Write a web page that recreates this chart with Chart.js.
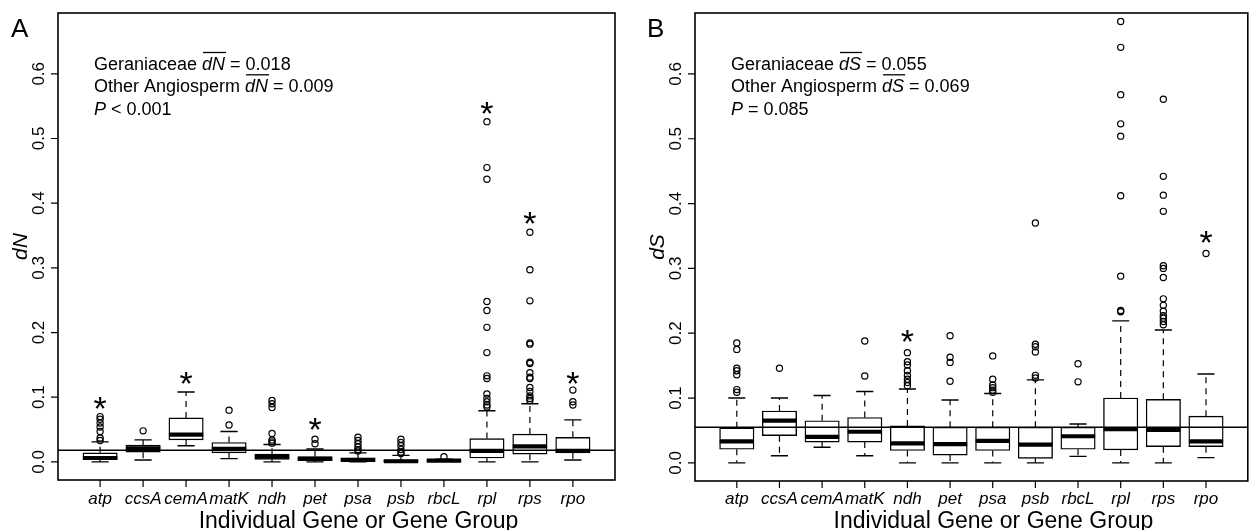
<!DOCTYPE html>
<html>
<head>
<meta charset="utf-8">
<script src="https://cdn.jsdelivr.net/npm/chart.js@4.4.1/dist/chart.umd.min.js"></script>
<style>
  html, body { margin: 0; padding: 0; background: #fff; }
  #wrap { position: relative; width: 1253px; height: 530px; overflow: hidden; }
  canvas { position: absolute; top: 0; }
  #cA { left: 0; }
  #cB { left: 626px; }
</style>
</head>
<body>
<div id="wrap">
  <canvas id="cA" width="626" height="530"></canvas>
  <canvas id="cB" width="627" height="530"></canvas>
</div>
<script>
// ---------------- DATA ----------------
const categories = ['atp', 'ccsA', 'cemA', 'matK', 'ndh', 'pet', 'psa', 'psb', 'rbcL', 'rpl', 'rps', 'rpo'];
const yTickValues = [0.0, 0.1, 0.2, 0.3, 0.4, 0.5, 0.6];
const yTickLabels = ['0.0', '0.1', '0.2', '0.3', '0.4', '0.5', '0.6'];
const xAxisTitle = 'Individual Gene or Gene Group';

// Panel A: dN
const dnLowerWhisker = [0.000, 0.003, 0.025, 0.005, 0.000, 0.000, 0.000, 0.000, 0.001, 0.000, 0.000, 0.003];
const dnQ1           = [0.004, 0.015, 0.034, 0.014, 0.004, 0.002, 0.001, 0.000, 0.001, 0.006, 0.012, 0.014];
const dnMedian       = [0.006, 0.021, 0.042, 0.020, 0.008, 0.005, 0.003, 0.001, 0.002, 0.017, 0.024, 0.017];
const dnQ3           = [0.014, 0.026, 0.068, 0.030, 0.012, 0.008, 0.006, 0.003, 0.003, 0.036, 0.043, 0.038];
const dnUpperWhisker = [0.031, 0.034, 0.108, 0.047, 0.027, 0.020, 0.014, 0.010, 0.004, 0.079, 0.090, 0.065];
const dnOutliers = [
  [0.070, 0.066, 0.060, 0.054, 0.047, 0.037, 0.033],
  [0.048],
  [],
  [0.080, 0.057],
  [0.095, 0.090, 0.084, 0.044, 0.034, 0.031, 0.029],
  [0.035, 0.028],
  [0.038, 0.033, 0.028, 0.023, 0.019, 0.017],
  [0.035, 0.030, 0.025, 0.019, 0.015, 0.013],
  [0.008],
  [0.526, 0.455, 0.437, 0.248, 0.234, 0.208, 0.169, 0.133, 0.129, 0.105, 0.098, 0.093, 0.088, 0.085],
  [0.355, 0.297, 0.249, 0.184, 0.182, 0.154, 0.152, 0.138, 0.131, 0.129, 0.115, 0.109, 0.102, 0.098, 0.095],
  [0.111, 0.093, 0.088]
];
const dnStars = [0.095, null, 0.134, null, null, 0.063, null, null, null, 0.552, 0.382, 0.134];
const dnMeanLine = 0.018;
const dnStatLines = [
  ['Geraniaceae ', 'dN', ' = 0.018'],
  ['Other Angiosperm ', 'dN', ' = 0.009'],
  ['P', ' < 0.001']
];

// Panel B: dS
const dsLowerWhisker = [0.000, 0.011, 0.024, 0.011, 0.000, 0.000, 0.000, 0.000, 0.010, 0.000, 0.000, 0.008];
const dsQ1           = [0.021, 0.042, 0.032, 0.032, 0.019, 0.012, 0.019, 0.007, 0.021, 0.020, 0.025, 0.025];
const dsMedian       = [0.033, 0.065, 0.040, 0.048, 0.030, 0.029, 0.034, 0.028, 0.041, 0.052, 0.051, 0.033];
const dsQ3           = [0.054, 0.080, 0.065, 0.070, 0.057, 0.055, 0.055, 0.055, 0.055, 0.100, 0.098, 0.072];
const dsUpperWhisker = [0.100, 0.100, 0.104, 0.110, 0.114, 0.097, 0.107, 0.128, 0.060, 0.219, 0.205, 0.137];
const dsOutliers = [
  [0.185, 0.175, 0.146, 0.142, 0.136, 0.113, 0.109],
  [0.146],
  [],
  [0.188, 0.134],
  [0.170, 0.156, 0.151, 0.142, 0.135, 0.129, 0.124, 0.119],
  [0.196, 0.163, 0.155, 0.126],
  [0.165, 0.129, 0.120, 0.116, 0.112, 0.109],
  [0.370, 0.183, 0.179, 0.171, 0.135, 0.131],
  [0.153, 0.125],
  [0.681, 0.641, 0.568, 0.523, 0.504, 0.412, 0.288, 0.235, 0.233],
  [0.561, 0.442, 0.413, 0.388, 0.304, 0.300, 0.286, 0.253, 0.243, 0.234, 0.227, 0.223, 0.218, 0.213],
  [0.323]
];
const dsStars = [null, null, null, null, 0.200, null, null, null, null, null, null, 0.353];
const dsMeanLine = 0.055;
const dsStatLines = [
  ['Geraniaceae ', 'dS', ' = 0.055'],
  ['Other Angiosperm ', 'dS', ' = 0.069'],
  ['P', ' = 0.085']
];

// ---------------- RENDERING ----------------
const FONT = '"Liberation Sans", Arial, Helvetica, sans-serif';

function makePanel(canvasId, cfg) {
  const boxData = categories.map((c, i) => ({ x: i + 1, y: [cfg.q1[i], cfg.q3[i]] }));
  const outData = [];
  cfg.outliers.forEach((arr, i) => arr.forEach(v => outData.push({ x: i + 1, y: v })));

  const boxPlugin = {
    id: 'boxplotExtras',
    afterDatasetsDraw(chart) {
      const ctx = chart.ctx;
      const xs = chart.scales.x, ys = chart.scales.y;
      const area = chart.chartArea;
      ctx.save();
      ctx.beginPath();
      ctx.rect(area.left, area.top, area.right - area.left, area.bottom - area.top);
      ctx.clip();
      ctx.strokeStyle = '#000';
      categories.forEach((c, i) => {
        const cx = xs.getPixelForValue(i + 1);
        const capHalf = xs.getPixelForValue(i + 1.2) - cx;
        const boxHalf = xs.getPixelForValue(i + 1.4) - cx;
        const yLo = ys.getPixelForValue(cfg.lo[i]);
        const yQ1 = ys.getPixelForValue(cfg.q1[i]);
        const yQ3 = ys.getPixelForValue(cfg.q3[i]);
        const yHi = ys.getPixelForValue(cfg.hi[i]);
        const yMed = ys.getPixelForValue(cfg.med[i]);
        // dashed whiskers
        ctx.lineWidth = 1.2;
        ctx.setLineDash([6, 5]);
        ctx.beginPath();
        ctx.moveTo(cx, yQ3); ctx.lineTo(cx, yHi);
        ctx.moveTo(cx, yQ1); ctx.lineTo(cx, yLo);
        ctx.stroke();
        // caps
        ctx.setLineDash([]);
        ctx.lineWidth = 1.4;
        ctx.beginPath();
        ctx.moveTo(cx - capHalf, yHi); ctx.lineTo(cx + capHalf, yHi);
        ctx.moveTo(cx - capHalf, yLo); ctx.lineTo(cx + capHalf, yLo);
        ctx.stroke();
        // median
        ctx.lineWidth = 4.2;
        ctx.beginPath();
        ctx.moveTo(cx - boxHalf, yMed); ctx.lineTo(cx + boxHalf, yMed);
        ctx.stroke();
      });
      // reference line
      const yRef = ys.getPixelForValue(cfg.mean);
      ctx.lineWidth = 1.5;
      ctx.beginPath();
      ctx.moveTo(area.left, yRef); ctx.lineTo(area.right, yRef);
      ctx.stroke();
      ctx.restore();

      // stars
      ctx.save();
      ctx.fillStyle = '#000';
      ctx.font = '34px ' + FONT;
      ctx.textAlign = 'center';
      ctx.textBaseline = 'alphabetic';
      cfg.stars.forEach((v, i) => {
        if (v === null) return;
        const cx = xs.getPixelForValue(i + 1);
        const cy = ys.getPixelForValue(v);
        ctx.fillText('*', cx, cy + 0.58 * 34);
      });
      ctx.restore();
    },
    afterDraw(chart) {
      const ctx = chart.ctx;
      const xs = chart.scales.x, ys = chart.scales.y;
      const area = chart.chartArea;
      ctx.save();
      ctx.strokeStyle = '#000';
      ctx.fillStyle = '#000';
      // frame
      ctx.lineWidth = 1.6;
      ctx.strokeRect(area.left, area.top, area.right - area.left, area.bottom - area.top);
      // x ticks
      ctx.lineWidth = 1.2;
      ctx.beginPath();
      categories.forEach((c, i) => {
        const px = xs.getPixelForValue(i + 1);
        ctx.moveTo(px, area.bottom); ctx.lineTo(px, area.bottom + 7);
      });
      // y ticks
      yTickValues.forEach(v => {
        const py = ys.getPixelForValue(v);
        ctx.moveTo(area.left - 7, py); ctx.lineTo(area.left, py);
      });
      ctx.stroke();
      // x tick labels
      ctx.font = 'italic 17px ' + FONT;
      ctx.textAlign = 'center';
      ctx.textBaseline = 'alphabetic';
      categories.forEach((c, i) => {
        ctx.fillText(c, xs.getPixelForValue(i + 1), 503.5);
      });
      // y tick labels (rotated)
      ctx.font = '17px ' + FONT;
      yTickValues.forEach((v, k) => {
        const py = ys.getPixelForValue(v);
        ctx.save();
        ctx.translate(area.left - 14.5, py);
        ctx.rotate(-Math.PI / 2);
        ctx.textAlign = 'center';
        ctx.fillText(yTickLabels[k], 0, 0);
        ctx.restore();
      });
      // y title
      ctx.save();
      ctx.font = 'italic 21px ' + FONT;
      ctx.translate(area.left - 31, (area.top + area.bottom) / 2);
      ctx.rotate(-Math.PI / 2);
      ctx.textAlign = 'center';
      ctx.fillText(cfg.yTitle, 0, 0);
      ctx.restore();
      // x title
      ctx.font = '23px ' + FONT;
      ctx.textAlign = 'center';
      ctx.fillText(xAxisTitle, (area.left + area.right) / 2 + 22, 528);
      // panel letter
      ctx.font = '26px ' + FONT;
      ctx.textAlign = 'left';
      ctx.fillText(cfg.letter, cfg.letterX, 37);
      // stats text
      ctx.font = '18px ' + FONT;
      const baselines = [70, 92.3, 114.5];
      cfg.statLines.forEach((parts, li) => {
        let x = area.left + 36;
        const yb = baselines[li];
        parts.forEach((t, pi) => {
          const italic = (li < 2 && pi === 1) || (li === 2 && pi === 0);
          ctx.font = (italic ? 'italic ' : '') + '18px ' + FONT;
          ctx.fillText(t, x, yb);
          const w = ctx.measureText(t).width;
          if (li < 2 && pi === 1) {
            ctx.lineWidth = 1.3;
            ctx.beginPath();
            ctx.moveTo(x + 1, yb - 17.5);
            ctx.lineTo(x + w + 1, yb - 17.5);
            ctx.stroke();
          }
          x += w;
        });
      });
      ctx.restore();
    }
  };

  return new Chart(document.getElementById(canvasId), {
    type: 'bar',
    data: {
      datasets: [
        {
          type: 'bar',
          data: boxData,
          backgroundColor: '#ffffff',
          borderColor: '#000000',
          borderWidth: 1.4,
          borderSkipped: false,
          barThickness: 34.4,
          grouped: false
        },
        {
          type: 'scatter',
          data: outData,
          pointRadius: 3.1,
          pointBorderWidth: 1.2,
          pointBackgroundColor: 'rgba(255,255,255,0)',
          pointBorderColor: '#000000',
          showLine: false
        }
      ]
    },
    options: {
      responsive: false,
      animation: false,
      devicePixelRatio: 1,
      layout: { padding: { top: 13, right: cfg.padRight, left: 0, bottom: 0 } },
      plugins: { legend: { display: false }, tooltip: { enabled: false }, title: { display: false } },
      scales: {
        x: {
          type: 'linear',
          min: 0.02,
          max: 12.98,
          offset: false,
          ticks: { display: false },
          grid: { display: false, offset: false },
          border: { display: false },
          afterFit: s => { s.height = cfg.bottomH; }
        },
        y: {
          type: 'linear',
          min: -0.028,
          max: 0.694,
          ticks: { display: false },
          grid: { display: false },
          border: { display: false },
          afterFit: s => { s.width = cfg.leftW; }
        }
      }
    },
    plugins: [boxPlugin]
  });
}

makePanel('cA', {
  lo: dnLowerWhisker, q1: dnQ1, med: dnMedian, q3: dnQ3, hi: dnUpperWhisker,
  outliers: dnOutliers, stars: dnStars, mean: dnMeanLine, statLines: dnStatLines,
  yTitle: 'dN', letter: 'A', letterX: 11, leftW: 58, padRight: 11, bottomH: 50
});
makePanel('cB', {
  lo: dsLowerWhisker, q1: dsQ1, med: dsMedian, q3: dsQ3, hi: dsUpperWhisker,
  outliers: dsOutliers, stars: dsStars, mean: dsMeanLine, statLines: dsStatLines,
  yTitle: 'dS', letter: 'B', letterX: 21, leftW: 69, padRight: 1, bottomH: 49
});
</script>
</body>
</html>
